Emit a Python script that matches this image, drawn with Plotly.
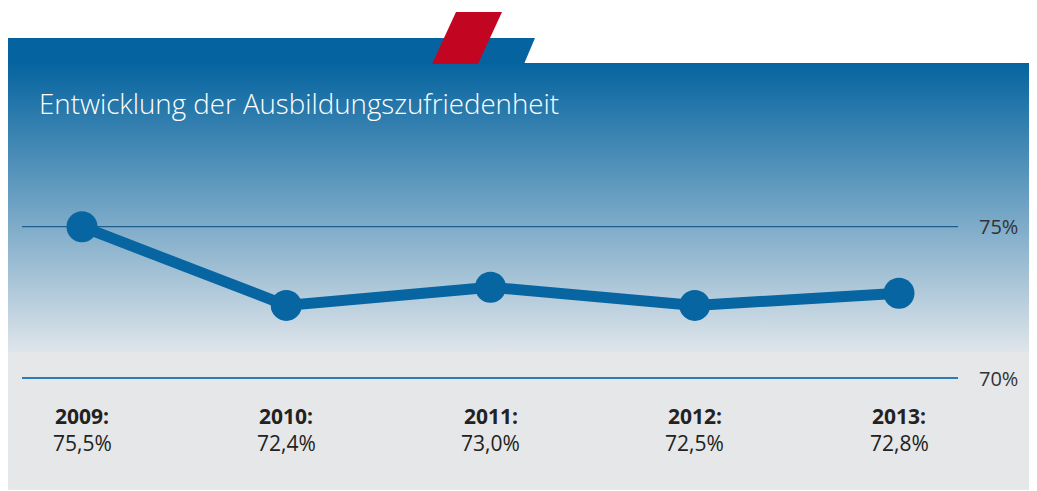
import plotly.graph_objects as go

# ---- data ----
years = ["2009", "2010", "2011", "2012", "2013"]
plotted_values = [75.0, 72.4, 73.0, 72.4, 72.8]      # marker heights as drawn in the picture
value_labels = ["75,5%", "72,4%", "73,0%", "72,5%", "72,8%"]
grid_values = [75, 70]
grid_labels = ["75%", "70%"]
title_text = "Entwicklung der Ausbildungszufriedenheit"

W, H = 1037, 491
OFF = 8  # page body margin compensation
FONT = "Open Sans"
DARK_BLUE = "#05649f"
LINE_BLUE = "#0765a2"

# pixel mapping of data axes (reference pixel coordinates)
X0_PX, DX_PX = 82.0, 204.25
Y75_PX, Y70_PX = 226.7, 378.0
ppu = (Y70_PX - Y75_PX) / 5.0
x_range = [(OFF - X0_PX) / DX_PX, (W + OFF - X0_PX) / DX_PX]
y_range = [75 - (H + OFF - Y75_PX) / ppu, 75 + (Y75_PX - OFF) / ppu]

def px_to_x(px):
    return (px - X0_PX) / DX_PX

fig = go.Figure()

# ---- decoration (pixel space, axes x/y) ----
fig.add_trace(go.Scatter(
    x=[6, W + 10, W + 10, 6, 6], y=[63, 63, 352, 352, 63], mode="lines", fill="toself",
    line=dict(width=0), fillgradient=dict(type="vertical",
    colorscale=[[0, "#dfe5ea"], [0.5, "#70a3c4"], [1, DARK_BLUE]]),
    hoverinfo="skip", showlegend=False, xaxis="x", yaxis="y"))
fig.add_trace(go.Scatter(
    x=[6, W + 10, W + 10, 6, 6], y=[352, 352, 490, 490, 352], mode="lines", fill="toself",
    line=dict(width=0), fillcolor="#e6e7e9",
    hoverinfo="skip", showlegend=False, xaxis="x", yaxis="y"))
fig.add_trace(go.Scatter(
    x=[7, 535, 524, 7, 7], y=[38, 38, 64, 64, 38], mode="lines", fill="toself",
    line=dict(width=0), fillcolor=DARK_BLUE,
    hoverinfo="skip", showlegend=False, xaxis="x", yaxis="y"))
fig.add_trace(go.Scatter(
    x=[456, 502, 478, 432, 456], y=[12, 12, 64, 64, 12], mode="lines", fill="toself",
    line=dict(width=0), fillcolor="#c20622",
    hoverinfo="skip", showlegend=False, xaxis="x", yaxis="y"))

# ---- data subplot (x2/y2) ----
grid_colors = ["#1b5f91", "#2b7cba"]
grid_widths = [1.3, 2]
for gv, gc, gw in zip(grid_values, grid_colors, grid_widths):
    fig.add_trace(go.Scatter(
        x=[px_to_x(22), px_to_x(958)], y=[gv, gv], mode="lines",
        line=dict(color=gc, width=gw), hoverinfo="skip", showlegend=False,
        xaxis="x2", yaxis="y2"))

fig.add_trace(go.Scatter(
    x=list(range(len(years))), y=plotted_values, mode="lines+markers",
    line=dict(color=LINE_BLUE, width=11),
    marker=dict(color=LINE_BLUE, size=31),
    hoverinfo="skip", showlegend=False, xaxis="x2", yaxis="y2"))

annotations = []
annotations.append(dict(
    x=37, y=103, xref="x", yref="y", text=title_text, showarrow=False,
    xanchor="left", yanchor="middle",
    font=dict(family=FONT, size=27.7, color="white", weight=300)))
for gv, gl in zip(grid_values, grid_labels):
    annotations.append(dict(
        x=979, y=gv, xref="x", yref="y2", text=gl, showarrow=False,
        xanchor="left", yanchor="middle", xshift=-2,
        font=dict(family=FONT, size=20, color="#333333")))
for i, (yr, vl) in enumerate(zip(years, value_labels)):
    annotations.append(dict(
        x=i, y=416, xref="x2", yref="y", text=f"<b>{yr}:</b>", showarrow=False,
        xanchor="center", yanchor="middle",
        font=dict(family=FONT, size=21, color="#222222")))
    annotations.append(dict(
        x=i, y=443, xref="x2", yref="y", text=vl, showarrow=False,
        xanchor="center", yanchor="middle",
        font=dict(family=FONT, size=21, color="#222222")))

axis_off = dict(visible=False, showgrid=False, zeroline=False, fixedrange=True)
fig.update_layout(
    width=W, height=H, margin=dict(l=0, r=0, t=0, b=0),
    paper_bgcolor="white", plot_bgcolor="rgba(0,0,0,0)",
    xaxis=dict(range=[OFF, W + OFF], domain=[0, 1], **axis_off),
    yaxis=dict(range=[H + OFF, OFF], domain=[0, 1], **axis_off),
    xaxis2=dict(range=x_range, overlaying="x", **axis_off),
    yaxis2=dict(range=y_range, overlaying="y", **axis_off),
    annotations=annotations,
)

fig.write_html("out.html")
